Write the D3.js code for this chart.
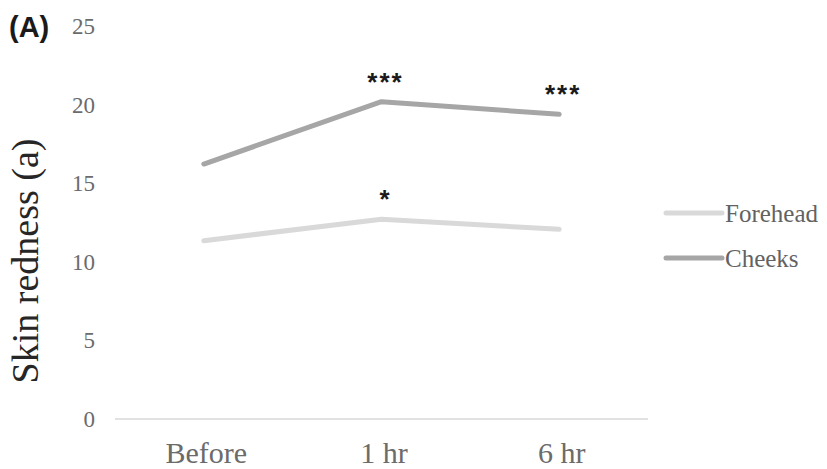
<!DOCTYPE html>
<html>
<head>
<meta charset="utf-8">
<script src="https://cdn.jsdelivr.net/npm/d3@7"></script>
<style>
  html, body { margin: 0; padding: 0; background: #fff; }
  svg { display: block; }
</style>
</head>
<body>
<svg id="chart" width="827" height="469"></svg>
<script>
// Time points and mean skin redness (a*) per region
const timepoints = ["Before", "1 hr", "6 hr"];
const forehead = [11.36, 12.72, 12.08];
const cheeks = [16.24, 20.21, 19.41];
const yTicks = [0, 5, 10, 15, 20, 25];
// Significance markers per time point (empty = none)
const foreheadSig = ["", "*", ""];
const cheeksSig = ["", "***", "***"];

const series = [
  { name: "Forehead", values: forehead, sig: foreheadSig, color: "#d9d9d9" },
  { name: "Cheeks", values: cheeks, sig: cheeksSig, color: "#a6a6a6" }
];

const svg = d3.select("#chart");
const serif = "'Liberation Serif', 'Times New Roman', serif";
const sans = "'Liberation Sans', Arial, sans-serif";

const x = d3.scalePoint().domain(timepoints).range([115, 648]).padding(0.5);
const y = d3.scaleLinear().domain([0, 25]).range([419, 26.5]);

// Baseline at zero
svg.append("line")
  .attr("x1", 115).attr("x2", 648)
  .attr("y1", y(0)).attr("y2", y(0))
  .attr("stroke", "#d9d9d9").attr("stroke-width", 1.5);

// Y axis labels (no axis line)
const yAxis = svg.append("g")
  .attr("transform", "translate(95,0)")
  .call(d3.axisLeft(y).tickValues(yTicks).tickSize(0).tickPadding(0));
yAxis.select(".domain").remove();
yAxis.selectAll("text")
  .attr("font-family", serif).attr("font-size", 23).attr("fill", "#6b6b6b");

// X axis labels
const xAxis = svg.append("g")
  .attr("transform", "translate(2,0)")
  .call(d3.axisBottom(x).tickSize(0).tickPadding(0));
xAxis.select(".domain").remove();
xAxis.selectAll("text")
  .attr("dy", null)
  .attr("y", 463)
  .attr("font-family", serif).attr("font-size", 30).attr("fill", "#6b6b6b");

// Y axis title
svg.append("text")
  .attr("transform", "translate(38,261) rotate(-90)")
  .attr("text-anchor", "middle")
  .attr("font-family", serif).attr("font-size", 38).attr("fill", "#262626")
  .text("Skin redness (a)");

// Panel label
svg.append("text")
  .attr("x", 9).attr("y", 37)
  .attr("font-family", sans).attr("font-weight", "bold").attr("font-size", 29)
  .attr("fill", "#1a1a1a")
  .text("(A)");

// Lines
const line = d3.line()
  .x((d, i) => x(timepoints[i]))
  .y(d => y(d));

svg.selectAll("path.series")
  .data(series)
  .join("path")
  .attr("class", "series")
  .attr("d", d => line(d.values))
  .attr("fill", "none")
  .attr("stroke", d => d.color)
  .attr("stroke-width", 5)
  .attr("stroke-linecap", "round")
  .attr("stroke-linejoin", "round");

// Significance asterisks above points
series.forEach(s => {
  s.values.forEach((v, i) => {
    if (!s.sig[i]) return;
    svg.append("text")
      .attr("x", x(timepoints[i]) + 4)
      .attr("y", y(v) - 11)
      .attr("text-anchor", "middle")
      .attr("font-family", sans).attr("font-weight", "bold").attr("font-size", 26)
      .attr("letter-spacing", 2)
      .attr("fill", "#1a1a1a")
      .text(s.sig[i]);
  });
});

// Legend
const legendY = [213, 258];
const legend = svg.selectAll("g.legend")
  .data(series)
  .join("g")
  .attr("class", "legend")
  .attr("transform", (d, i) => `translate(666,${legendY[i]})`);
legend.append("line")
  .attr("x1", 0).attr("x2", 56)
  .attr("stroke", d => d.color).attr("stroke-width", 5)
  .attr("stroke-linecap", "round");
legend.append("text")
  .attr("x", 59).attr("y", 8.5)
  .attr("font-family", serif).attr("font-size", 25).attr("fill", "#626262")
  .text(d => d.name);
</script>
</body>
</html>
